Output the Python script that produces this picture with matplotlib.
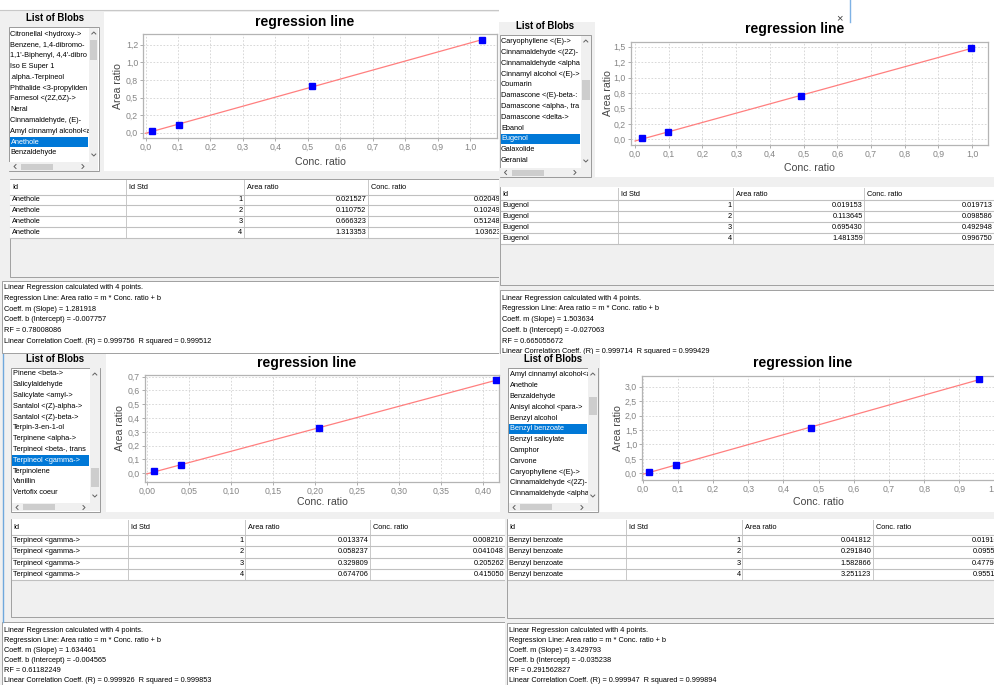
import matplotlib.pyplot as plt
from matplotlib.patches import Rectangle
from matplotlib.ticker import FixedLocator, FuncFormatter

plt.rcParams['font.family'] = ['Liberation Sans', 'DejaVu Sans']

# ---------------- data ----------------
anethole_list = ['Citronellal <hydroxy->', 'Benzene, 1,4-dibromo-', "1,1'-Biphenyl, 4,4'-dibro",
                 'Iso E Super 1', '.alpha.-Terpineol', 'Phthalide <3-propyliden',
                 'Farnesol <(2Z,6Z)->', 'Neral', 'Cinnamaldehyde, (E)-',
                 'Amyl cinnamyl alcohol<a', 'Anethole', 'Benzaldehyde']
anethole_area = [0.021527, 0.110752, 0.666323, 1.313353]
anethole_conc = [0.02049, 0.10249, 0.51248, 1.03623]
anethole_fit = [1.281918, -0.007757, 0.999756, 0.999512]
anethole_rf = '0.78008086'
anethole_xticks = [0.0, 0.1, 0.2, 0.3, 0.4, 0.5, 0.6, 0.7, 0.8, 0.9, 1.0]
anethole_yticks = [0.0, 0.25, 0.5, 0.75, 1.0, 1.25]

eugenol_list = ['Caryophyllene <(E)->', 'Cinnamaldehyde <(2Z)-', 'Cinnamaldehyde <alpha',
                'Cinnamyl alcohol <(E)->', 'Coumarin', 'Damascone <(E)-beta-:',
                'Damascone <alpha-, tra', 'Damascone <delta->', 'Ebanol', 'Eugenol',
                'Galaxolide', 'Geranial']
eugenol_area = [0.019153, 0.113645, 0.695430, 1.481359]
eugenol_conc = [0.019713, 0.098586, 0.492948, 0.996750]
eugenol_fit = [1.503634, -0.027063, 0.999714, 0.999429]
eugenol_rf = '0.665055672'
eugenol_xticks = [0.0, 0.1, 0.2, 0.3, 0.4, 0.5, 0.6, 0.7, 0.8, 0.9, 1.0]
eugenol_yticks = [0.0, 0.25, 0.5, 0.75, 1.0, 1.25, 1.5]

terpineol_list = ['Pinene <beta->', 'Salicylaldehyde', 'Salicylate <amyl->',
                  'Santalol <(Z)-alpha->', 'Santalol <(Z)-beta->', 'Terpin-3-en-1-ol',
                  'Terpinene <alpha->', 'Terpineol <beta-, trans', 'Terpineol <gamma->',
                  'Terpinolene', 'Vanillin', 'Vertofix coeur']
terpineol_area = [0.013374, 0.058237, 0.329809, 0.674706]
terpineol_conc = [0.008210, 0.041048, 0.205262, 0.415050]
terpineol_fit = [1.634461, -0.004565, 0.999926, 0.999853]
terpineol_rf = '0.61182249'
terpineol_xticks = [0.0, 0.05, 0.10, 0.15, 0.20, 0.25, 0.30, 0.35, 0.40]
terpineol_yticks = [0.0, 0.1, 0.2, 0.3, 0.4, 0.5, 0.6, 0.7]

benzoate_list = ['Amyl cinnamyl alcohol<a', 'Anethole', 'Benzaldehyde',
                 'Anisyl alcohol <para->', 'Benzyl alcohol', 'Benzyl benzoate',
                 'Benzyl salicylate', 'Camphor', 'Carvone', 'Caryophyllene <(E)->',
                 'Cinnamaldehyde <(2Z)-', 'Cinnamaldehyde <alpha']
benzoate_area = [0.041812, 0.291840, 1.582866, 3.251123]
benzoate_conc = [0.0191, 0.0955, 0.4779, 0.9551]
benzoate_fit = [3.429793, -0.035238, 0.999947, 0.999894]
benzoate_rf = '0.291562827'
benzoate_xticks = [0.0, 0.1, 0.2, 0.3, 0.4, 0.5, 0.6, 0.7, 0.8, 0.9, 1.0]
benzoate_yticks = [0.0, 0.5, 1.0, 1.5, 2.0, 2.5, 3.0]

# ---------------- layout (pixel coordinates) ----------------
W, H = 994, 685
GRAY = '#f0f0f0'
SEL = '#0078d7'
FS = 5.3

fig = plt.figure(figsize=(W / 100, H / 100), dpi=100)


def px_axes(x0, y0, x1, y1):
    return fig.add_axes([x0 / W, 1 - y1 / H, (x1 - x0) / W, (y1 - y0) / H])


def canvas(x0, y0, x1, y1, fc):
    ax = px_axes(x0, y0, x1, y1)
    ax.set_xlim(x0, x1)
    ax.set_ylim(y1, y0)
    ax.axis('off')
    ax.add_patch(Rectangle((x0, y0), x1 - x0, y1 - y0, fc=fc, ec='none'))
    return ax


def rect(ax, x0, y0, x1, y1, fc, ec='none', lw=0.7, z=1):
    ax.add_patch(Rectangle((x0, y0), x1 - x0, y1 - y0, fc=fc, ec=ec, lw=lw, zorder=z))


def txt(ax, x, y, s, size=FS, **kw):
    ax.text(x, y, s, fontsize=size, va='center', clip_on=True, **kw)


def chevron(ax, cx, cy, d):
    pts = {'u': ([-2, 0, 2], [1, -1, 1]), 'd': ([-2, 0, 2], [-1, 1, -1]),
           'l': ([1, -1, 1], [-2, 0, 2]), 'r': ([-1, 1, -1], [-2, 0, 2])}[d]
    ax.plot([cx + p for p in pts[0]], [cy + p for p in pts[1]],
            color='#606060', lw=0.7, zorder=6, clip_on=True)


def listbox(ax, box, items, sel, first_y, thumb):
    x0, y0, x1, y1 = box
    rect(ax, x0, y0, x1, y1, 'white', '#9a9a9a')
    sb, hb = x1 - 10, y1 - 9
    for i, name in enumerate(items):
        y = first_y + i * 10.8
        if i == sel:
            rect(ax, x0 + 1, y - 5.3, sb - 1, y + 5.3, SEL, z=2)
        txt(ax, x0 + 1.5, y, name, color='white' if i == sel else 'black', zorder=3)
    rect(ax, sb, y0 + 0.5, x1 - 0.5, hb, GRAY, z=4)
    rect(ax, sb + 1, thumb[0], x1 - 1.5, thumb[1], '#cdcdcd', z=5)
    chevron(ax, sb + 4.8, y0 + 6, 'u')
    chevron(ax, sb + 4.8, hb - 7, 'd')
    rect(ax, x0 + 0.5, hb, x1 - 0.5, y1 - 0.5, GRAY, z=4)
    rect(ax, x0 + 12, hb + 1.5, x0 + 44, y1 - 1.5, '#cdcdcd', z=5)
    chevron(ax, x0 + 6, hb + 4.5, 'l')
    chevron(ax, sb - 6, hb + 4.5, 'r')


def table(ax, L, name, area, conc):
    x0, y0, x1, yb = L['table']
    hb, rh = L['header'], L['row_h']
    c1, c2, c3 = L['cols']
    rect(ax, x0, y0, x1, yb, GRAY, '#a0a0a0')
    rect(ax, x0 + 0.5, y0 + 0.5, x1, hb, 'white')
    rect(ax, x0 + 0.5, hb, x1, hb + 4 * rh, 'white')
    for c in (c1, c2, c3):
        ax.plot([c, c], [y0 + 1, hb + 4 * rh], color='#c8c8c8', lw=0.7, clip_on=True)
    for k in range(5):
        yy = hb + k * rh
        ax.plot([x0 + 0.5, x1], [yy, yy], color='#c0c0c0', lw=0.8, clip_on=True)
    yh = (y0 + hb) / 2 + 1
    for x, s in zip((x0 + 2, c1 + 3, c2 + 3, c3 + 3), ('Id', 'Id Std', 'Area ratio', 'Conc. ratio')):
        txt(ax, x, yh, s)
    for i in range(4):
        y = hb + (i + 0.5) * rh
        txt(ax, x0 + 2, y, name)
        txt(ax, c2 - 1.5, y, str(i + 1), ha='right')
        txt(ax, c3 - 1.5, y, f'{area[i]:.6f}', ha='right')
        txt(ax, L['conc_right'], y, f'{conc[i]:.6f}', ha='right')


def result_box(ax, L, fit, rf):
    x0, y0, x1, y1 = L['text_box']
    rect(ax, x0, y0, x1, y1, 'white', '#a0a0a0')
    m, b, r, r2 = fit
    lines = ['Linear Regression calculated with 4 points.',
             'Regression Line: Area ratio = m * Conc. ratio + b',
             f'Coeff. m (Slope) = {m:.6f}',
             f'Coeff. b (Intercept) = {b:.6f}',
             f'RF = {rf}',
             f'Linear Correlation Coeff. (R) = {r:.6f}  R squared = {r2:.6f}']
    for i, s in enumerate(lines):
        txt(ax, x0 + 2, L['text_y0'] + i * L['text_dy'], s)


def fmt(dec):
    return FuncFormatter(lambda v, p: f'{v:.{dec}f}'.replace('.', ','))


def chart(ax, L, area, conc, fit, xt, xdec, yt):
    x0, y0, x1, y1 = L['chart']
    rect(ax, x0, y0, x1, y1, 'white')
    txt(ax, L['title'][0], L['title'][1], 'regression line', size=10, weight='bold', ha='center')
    px0, py0, px1, py1 = L['plot']
    txt(ax, L['ylabel_x'], (py0 + py1) / 2, 'Area ratio', size=7.6, color='#454545',
        ha='center', rotation=90)
    txt(ax, (px0 + min(px1, x1)) / 2, L['xlabel_y'], 'Conc. ratio', size=7.6,
        color='#454545', ha='center')
    p = px_axes(px0, py0, px1, py1)
    p.set_xlim(*L['xlim'])
    p.set_ylim(*L['ylim'])
    m, b = fit[0], fit[1]
    xe = max(conc)
    p.plot([0, xe], [b, m * xe + b], color='#ff7f7f', lw=0.9, zorder=2)
    p.plot(conc, area, 's', ms=4.6, color='#0000ff', zorder=3)
    p.xaxis.set_major_locator(FixedLocator(xt))
    p.yaxis.set_major_locator(FixedLocator(yt))
    p.xaxis.set_major_formatter(fmt(xdec))
    p.yaxis.set_major_formatter(fmt(1))
    p.grid(True, color='#d2d2d2', ls=(0, (2, 2)), lw=0.6)
    p.set_axisbelow(True)
    for s in p.spines.values():
        s.set_color('#b4b4b4')
        s.set_linewidth(0.9)
    p.tick_params(length=2, width=0.6, color='#a0a0a0', labelsize=6.3,
                  labelcolor='#858585', pad=1.5)


def panel(L, name, items, sel, area, conc, fit, rf):
    cx0, cy0, cx1, cy1 = L['canvas']
    ax = canvas(cx0, cy0, cx1, cy1, L.get('bg', GRAY))
    for r in L.get('gray', []):
        rect(ax, *r, GRAY)
    txt(ax, L['blobs'][0], L['blobs'][1], 'List of Blobs', size=6.9, weight='bold', ha='center')
    listbox(ax, L['listbox'], items, sel, L['first_y'], L['thumb'])
    table(ax, L, name, area, conc)
    result_box(ax, L, fit, rf)
    return ax


P1 = dict(canvas=(0, 0, 499, 354), blobs=(55, 18), listbox=(9, 27, 99, 171),
          first_y=34, thumb=(40, 60), chart=(104, 12, 499, 171), title=(305, 22),
          plot=(143, 34, 497, 138), xlim=(-0.008, 1.083), ylim=(-0.075, 1.402),
          ylabel_x=118, xlabel_y=162,
          table=(10, 179, 510, 277), header=194.5, row_h=10.8, cols=(126, 244, 368),
          conc_right=505, text_box=(2, 281, 510, 353), text_y0=287.7, text_dy=10.75)

P2 = dict(canvas=(499, 0, 994, 357), bg='white',
          gray=[(499, 22, 595, 177), (499, 177, 994, 357)],
          blobs=(545, 26), listbox=(499.5, 35, 591, 177), first_y=41.7, thumb=(80, 100),
          chart=(595, 9, 994, 177), title=(795, 29),
          plot=(630.7, 42, 988, 145), xlim=(-0.013, 1.047), ylim=(-0.092, 1.577),
          ylabel_x=608, xlabel_y=168,
          table=(500, 186.7, 1000, 285), header=200, row_h=11, cols=(617.7, 733.3, 864.3),
          conc_right=993, text_box=(500, 290, 1000, 360), text_y0=298.3, text_dy=10.7)

P3 = dict(canvas=(0, 354, 505, 685), blobs=(55, 359), listbox=(11, 368, 100, 512),
          first_y=374, thumb=(468, 487), chart=(106, 354, 500, 512), title=(307, 363),
          plot=(145, 375, 499, 481.7), xlim=(-0.002, 0.4186), ylim=(-0.061, 0.712),
          ylabel_x=120, xlabel_y=501.7,
          table=(11, 519, 510, 617), header=535, row_h=11.3, cols=(127.7, 245, 370),
          conc_right=504, text_box=(2, 622, 510, 690), text_y0=631, text_dy=9.9)

P4 = dict(canvas=(505, 354, 994, 685), blobs=(553, 359), listbox=(508, 368, 598, 512),
          first_y=375, thumb=(396.7, 415), chart=(600, 354, 994, 512), title=(803, 362.7),
          plot=(642, 375.7, 1010, 480), xlim=(-0.002, 1.0435), ylim=(-0.232, 3.38),
          ylabel_x=618, xlabel_y=501.7,
          table=(507, 519, 1000, 618), header=535, row_h=11.3, cols=(625.7, 742.3, 872.7),
          conc_right=1003, text_box=(507, 623, 1000, 690), text_y0=631, text_dy=9.9)

# top-left window
ax1 = panel(P1, 'Anethole', anethole_list, 10, anethole_area, anethole_conc,
            anethole_fit, anethole_rf)
rect(ax1, 0, 0, 499, 9.5, 'white')
ax1.plot([0, 499], [9.5, 9.5], color='#c8c8c8', lw=0.8)
chart(ax1, P1, anethole_area, anethole_conc, anethole_fit, anethole_xticks, 1, anethole_yticks)

# top-right window
ax2 = panel(P2, 'Eugenol', eugenol_list, 9, eugenol_area, eugenol_conc,
            eugenol_fit, eugenol_rf)
chart(ax2, P2, eugenol_area, eugenol_conc, eugenol_fit, eugenol_xticks, 1, eugenol_yticks)
txt(ax2, 839, 18, '×', size=8, color='#404040', ha='center')
ax2.plot([850, 850], [0, 22], color='#7fb2e5', lw=1)

# bottom-left window
ax3 = panel(P3, 'Terpineol <gamma->', terpineol_list, 8, terpineol_area, terpineol_conc,
            terpineol_fit, terpineol_rf)
ax3.plot([3, 3], [354, 622], color='#6fa8dc', lw=1)
chart(ax3, P3, terpineol_area, terpineol_conc, terpineol_fit, terpineol_xticks, 2, terpineol_yticks)

# bottom-right window
ax4 = panel(P4, 'Benzyl benzoate', benzoate_list, 5, benzoate_area, benzoate_conc,
            benzoate_fit, benzoate_rf)
chart(ax4, P4, benzoate_area, benzoate_conc, benzoate_fit, benzoate_xticks, 1, benzoate_yticks)

fig.savefig('out.png', dpi=100)
